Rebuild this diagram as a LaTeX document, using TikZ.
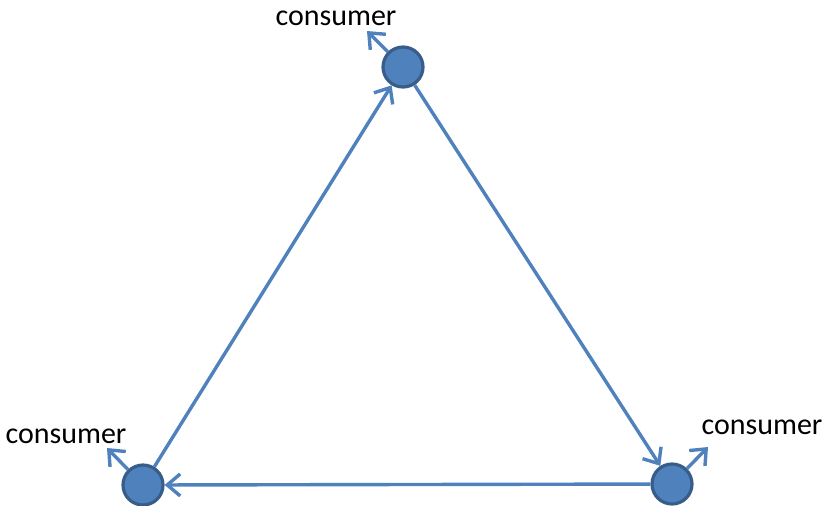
\documentclass[tikz,border=0pt]{standalone}
\usepackage{fontspec}
\setmainfont{Carlito}
\usetikzlibrary{arrows.meta}
\definecolor{lineblue}{RGB}{79,129,189}
\definecolor{darkblue}{RGB}{56,93,138}
\begin{document}
\begin{tikzpicture}[x=0.5pt,y=-0.5pt,
  dot/.style={circle,fill=lineblue,draw=darkblue,line width=1.6pt,minimum size=20pt,inner sep=0pt},
  conn/.style={draw=lineblue,line width=1.7pt,-{Straight Barb[length=6.5pt,width=11pt,line width=1.7pt]}},
  lab/.style={font=\fontsize{15}{18}\selectfont,inner sep=0pt,text=black}]
\useasboundingbox (0,0) rectangle (823,505);
\node[dot] (T) at (403,67) {};
\node[dot] (L) at (143,485) {};
\node[dot] (R) at (672,484) {};
\coordinate (tT) at (367,31);
\coordinate (tL) at (107,448);
\coordinate (tR) at (708,447);
\node[lab] (cT) at (336,18) {consumer};
\node[lab] (cL) at (66,436) {consumer};
\node[lab] (cR) at (762,427) {consumer};
\draw[conn] (T) -- (R);
\draw[conn] (R) -- (L);
\draw[conn] (L) -- (T);
\draw[conn] (T) -- (tT);
\draw[conn] (L) -- (tL);
\draw[conn] (R) -- (tR);
\end{tikzpicture}
\end{document}
